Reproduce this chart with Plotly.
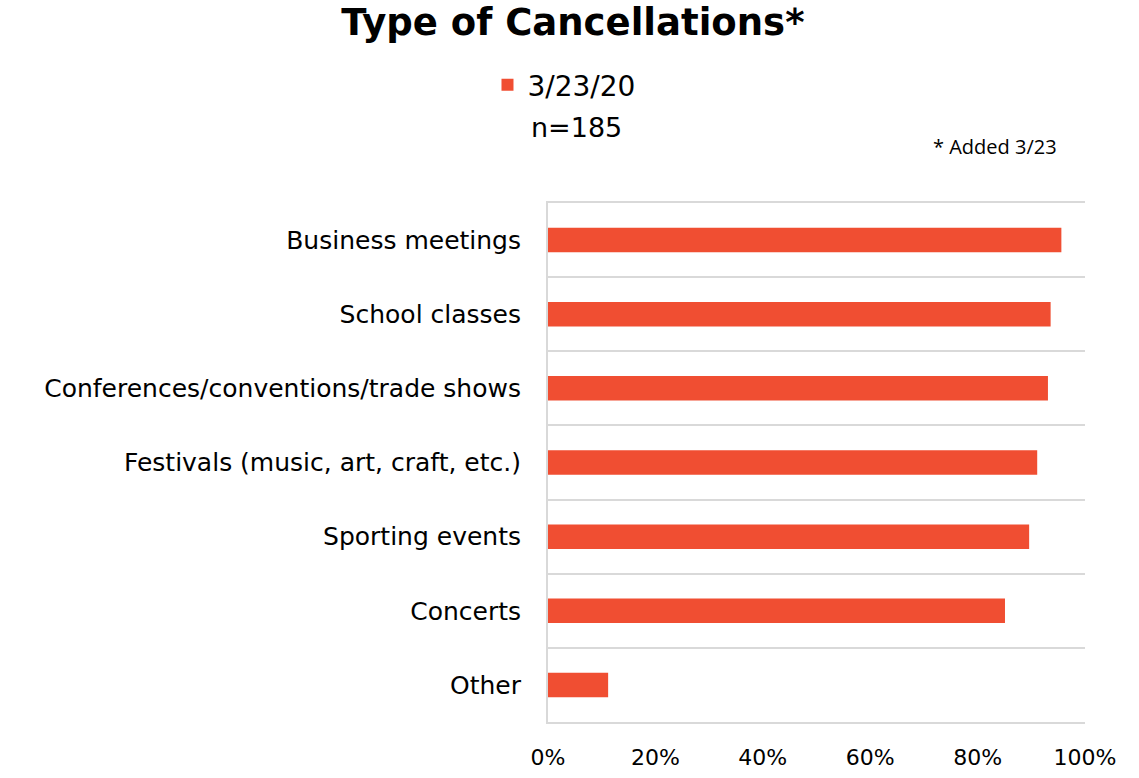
import plotly.graph_objects as go

# Share of respondents reporting each type of cancellation
categories = [
    "Business meetings",
    "School classes",
    "Conferences/conventions/trade shows",
    "Festivals (music, art, craft, etc.)",
    "Sporting events",
    "Concerts",
    "Other",
]
values_pct = [95.6, 93.6, 93.1, 91.1, 89.6, 85.1, 11.2]
series_name = "3/23/20"
sample_note = "n=185"
footnote = "* Added 3/23"
x_ticks = [0, 20, 40, 60, 80, 100]
x_tick_labels = ["0%", "20%", "40%", "60%", "80%", "100%"]

BAR_COLOR = "#F04E32"
GRID_COLOR = "#D9D9D9"
LABEL_FONT = "DejaVu Sans"

W, H = 1139, 778
M_L, M_R, M_T, M_B = 548, 54, 203, 56
PLOT_W = W - M_L - M_R
PLOT_H = H - M_T - M_B


def px_to_paper(px, py):
    """Convert page pixel coordinates to paper coordinates of the plot area."""
    return (px - M_L) / PLOT_W, (H - M_B - py) / PLOT_H


fig = go.Figure()
fig.add_trace(
    go.Bar(
        y=categories,
        x=values_pct,
        orientation="h",
        name=series_name,
        marker=dict(color=BAR_COLOR, line=dict(width=0)),
        width=0.33,
        showlegend=True,
    )
)

fig.update_layout(
    width=W,
    height=H,
    paper_bgcolor="white",
    plot_bgcolor="white",
    margin=dict(l=M_L, r=M_R, t=M_T, b=M_B, autoexpand=False),
    title=dict(
        text="Type of Cancellations*",
        x=0.503,
        xanchor="center",
        xref="container",
        y=1 - 22 / H,
        yanchor="middle",
        yref="container",
        font=dict(family="DejaVu Sans", size=37, color="black", weight=700),
    ),
    legend=dict(
        orientation="h",
        xref="container",
        yref="container",
        x=0.428,
        xanchor="left",
        y=1 - 60 / H,
        yanchor="top",
        font=dict(family=LABEL_FONT, size=28, color="black"),
        bgcolor="rgba(0,0,0,0)",
    ),
)

fig.update_xaxes(
    range=[0, 100],
    tickvals=x_ticks,
    ticktext=x_tick_labels,
    showgrid=False,
    zeroline=False,
    # bottom and top frame lines of the plot area
    showline=True,
    mirror=True,
    linecolor=GRID_COLOR,
    linewidth=2,
    ticks="",
    ticklabelstandoff=15,
    automargin=False,
    tickfont=dict(family=LABEL_FONT, size=22, color="black"),
    fixedrange=True,
)

fig.update_yaxes(
    type="category",
    categoryorder="array",
    categoryarray=categories,
    autorange="reversed",
    tickson="boundaries",
    showgrid=True,
    gridcolor=GRID_COLOR,
    gridwidth=2,
    showline=True,
    linecolor=GRID_COLOR,
    linewidth=2,
    ticks="",
    ticklabelstandoff=20,
    automargin=False,
    tickfont=dict(family=LABEL_FONT, size=25, color="black"),
    fixedrange=True,
)

nx, ny = px_to_paper(529, 127)
fig.add_annotation(
    text=sample_note,
    xref="paper",
    yref="paper",
    x=nx,
    xanchor="left",
    y=ny,
    yanchor="middle",
    showarrow=False,
    font=dict(family=LABEL_FONT, size=27, color="black"),
)

fx, fy = px_to_paper(931, 147)
fig.add_annotation(
    text=footnote,
    xref="paper",
    yref="paper",
    x=fx,
    xanchor="left",
    y=fy,
    yanchor="middle",
    showarrow=False,
    font=dict(family="Open Sans", size=20, color="black"),
)

fig.write_html("out.html")
